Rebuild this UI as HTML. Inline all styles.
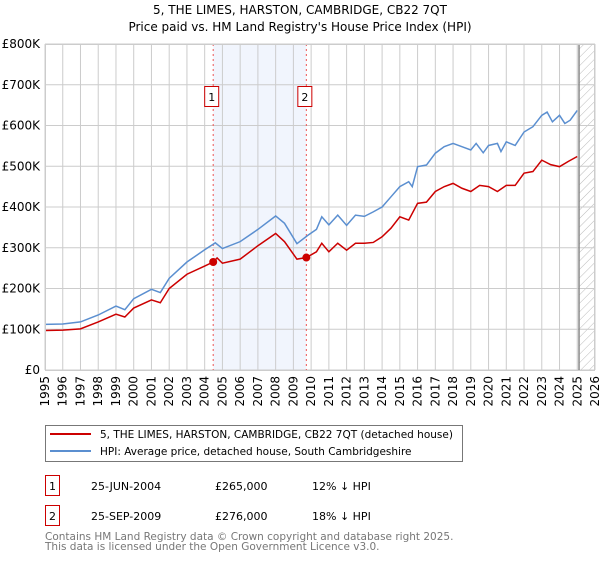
<!DOCTYPE html>
<html><head><meta charset="utf-8"><style>
body{margin:0;background:#fff;width:600px;height:560px;overflow:hidden;font-family:"DejaVu Sans","Liberation Sans",sans-serif;}
svg text{font-family:"DejaVu Sans","Liberation Sans",sans-serif;}
</style></head><body>
<svg id="c" width="600" height="560" xmlns="http://www.w3.org/2000/svg">
<defs><pattern id="hatch" width="6" height="6" patternUnits="userSpaceOnUse" patternTransform="rotate(45)"><line x1="0" y1="0" x2="0" y2="6" stroke="#bbb" stroke-width="1"/></pattern></defs>
<text x="300" y="14" text-anchor="middle" font-size="12" fill="#000">5, THE LIMES, HARSTON, CAMBRIDGE, CB22 7QT</text>
<text x="300" y="31" text-anchor="middle" font-size="12" fill="#000">Price paid vs. HM Land Registry's House Price Index (HPI)</text>
<g id="plot"></g>
<rect x="45.5" y="425.5" width="417" height="36" fill="#fff" stroke="#777"/>
<line x1="50" y1="434" x2="91" y2="434" stroke="#cc0000" stroke-width="2"/>
<text x="100" y="438" font-size="10.5">5, THE LIMES, HARSTON, CAMBRIDGE, CB22 7QT (detached house)</text>
<line x1="50" y1="451" x2="91" y2="451" stroke="#5b8fd0" stroke-width="2"/>
<text x="100" y="455" font-size="10.5">HPI: Average price, detached house, South Cambridgeshire</text>
<rect x="45.5" y="475.5" width="14" height="20" fill="#fff" stroke="#cc0000"/>
<text x="52.5" y="490" font-size="11" text-anchor="middle">1</text>
<text x="91" y="490" font-size="11">25-JUN-2004</text>
<text x="215" y="490" font-size="11">£265,000</text>
<text x="312" y="490" font-size="11">12% ↓ HPI</text>
<rect x="45.5" y="505.5" width="14" height="20" fill="#fff" stroke="#cc0000"/>
<text x="52.5" y="520" font-size="11" text-anchor="middle">2</text>
<text x="91" y="520" font-size="11">25-SEP-2009</text>
<text x="215" y="520" font-size="11">£276,000</text>
<text x="312" y="520" font-size="11">18% ↓ HPI</text>
<text x="45" y="540" font-size="10.5" fill="#777">Contains HM Land Registry data © Crown copyright and database right 2025.</text>
<text x="45" y="550" font-size="10.5" fill="#777">This data is licensed under the Open Government Licence v3.0.</text>
</svg>
<script>
const hpiYears=[1995,1996,1997,1998,1999,1999.5,2000,2001,2001.5,2002,2003,2004,2004.6,2005,2006,2007,2008,2008.5,2009.2,2009.8,2010.3,2010.6,2011,2011.5,2012,2012.5,2013,2013.5,2014,2014.5,2015,2015.5,2015.7,2016,2016.5,2017,2017.5,2018,2018.5,2019,2019.3,2019.7,2020,2020.5,2020.7,2021,2021.5,2022,2022.5,2023,2023.3,2023.6,2024,2024.3,2024.6,2025];
const hpiValues=[112,113,118,135,157,148,175,198,190,225,265,295,312,298,315,345,378,360,310,330,345,376,356,380,355,380,377,388,400,425,450,462,450,499,503,532,548,556,548,540,556,533,551,556,536,560,551,584,597,625,633,609,625,605,613,637];
const ppYears=[1995,1996,1997,1998,1999,1999.5,2000,2001,2001.5,2002,2003,2004,2004.48,2004.7,2005,2006,2007,2008,2008.5,2009.2,2009.73,2010.3,2010.6,2011,2011.5,2012,2012.5,2013,2013.5,2014,2014.5,2015,2015.5,2016,2016.5,2017,2017.5,2018,2018.5,2019,2019.5,2020,2020.5,2021,2021.5,2022,2022.5,2023,2023.5,2024,2024.5,2025];
const ppValues=[97,98,101,118,137,130,152,172,165,200,235,255,265,275,262,272,305,335,315,272,276,290,311,290,311,294,311,311,313,327,348,376,368,409,412,438,450,458,446,438,453,450,438,453,453,483,487,515,504,499,512,524];
const yTicks=[0,100,200,300,400,500,600,700,800];
const yTickLabels=["£0","£100K","£200K","£300K","£400K","£500K","£600K","£700K","£800K"];
const xTicks=[1995,1996,1997,1998,1999,2000,2001,2002,2003,2004,2005,2006,2007,2008,2009,2010,2011,2012,2013,2014,2015,2016,2017,2018,2019,2020,2021,2022,2023,2024,2025,2026];
const sales=[{t:2004.48,v:265,label:"1"},{t:2009.73,v:276,label:"2"}];
const L=45,R=595,T=44,B=370;
const X=t=>L+(t-1995)/(2026-1995)*(R-L);
const Y=v=>B-v/800*(B-T);
const NS="http://www.w3.org/2000/svg";
const g=document.getElementById('plot');
function mk(tag,a){const e=document.createElementNS(NS,tag);for(const k in a)e.setAttribute(k,a[k]);g.appendChild(e);return e;}
let e=mk('rect',{x:X(sales[0].t),y:T,width:X(sales[1].t)-X(sales[0].t),height:B-T,fill:'#eef3fc',opacity:0.8});


e=mk('rect',{x:X(2025.1),y:T,width:R-X(2025.1),height:B-T,fill:'url(#hatch)'});


yTicks.forEach((v,i)=>{
 let l=mk('line',{x1:L,x2:R,y1:Y(v),y2:Y(v),stroke:'#cccccc'});
 
 
 let t=mk('text',{x:40,y:Y(v)+4,'text-anchor':'end','font-size':12});
 t.textContent=yTickLabels[i];
 
 
});
xTicks.forEach(yr=>{
 let l=mk('line',{x1:X(yr),x2:X(yr),y1:T,y2:B,stroke:'#cccccc'});
 
 
 let t=mk('text',{x:0,y:0,'text-anchor':'end','font-size':12,transform:`translate(${X(yr)+4},${B+6}) rotate(-90)`});
 t.textContent=yr;
 
 
});
e=mk('line',{x1:X(2025.1),x2:X(2025.1),y1:T,y2:B,stroke:'#888','stroke-width':1.5});


sales.forEach(s=>{
 let l=mk('line',{x1:X(s.t),x2:X(s.t),y1:T,y2:B,stroke:'#ee5555','stroke-dasharray':'2,3'});
 
 
 let r=mk('rect',{x:X(s.t)-8.5,y:86.5,width:14,height:20,fill:'#fff',stroke:'#cc0000'});
 
 
 let t=mk('text',{x:X(s.t)-1.5,y:101,'text-anchor':'middle','font-size':11});
 t.textContent=s.label;
 
 
});
e=mk('polyline',{points:hpiYears.map((t,i)=>X(t)+','+Y(hpiValues[i])).join(' '),fill:'none',stroke:'#5b8fd0','stroke-width':1.5});


e=mk('polyline',{points:ppYears.map((t,i)=>X(t)+','+Y(ppValues[i])).join(' '),fill:'none',stroke:'#cc0000','stroke-width':1.5});


sales.forEach(s=>{
 let c=mk('circle',{cx:X(s.t),cy:Y(s.v),r:4,fill:'#cc0000'});
 
 
});
e=mk('rect',{x:L+0.5,y:T+0.5,width:R-L-1,height:B-T,fill:'none',stroke:'#cccccc'});


</script>
</body></html>
